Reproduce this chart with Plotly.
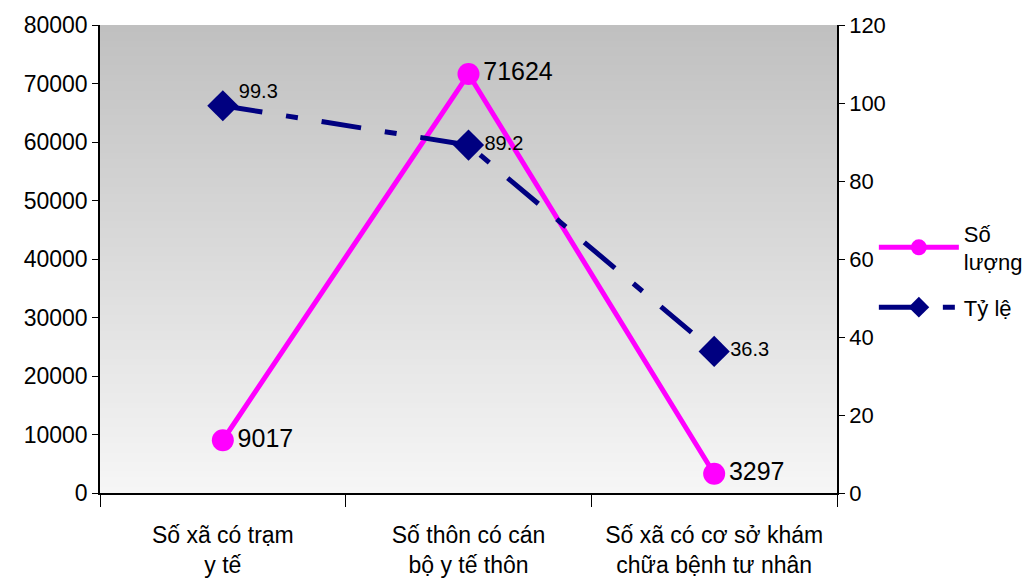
import plotly.graph_objects as go

categories = ["Số xã có trạm<br>y tế", "Số thôn có cán<br>bộ y tế thôn", "Số xã có cơ sở khám<br>chữa bệnh tư nhân"]
so_luong = [9017, 71624, 3297]
ty_le = [99.3, 89.2, 36.3]
left_ticks = [0, 10000, 20000, 30000, 40000, 50000, 60000, 70000, 80000]
right_ticks = [0, 20, 40, 60, 80, 100, 120]

FONT = "Liberation Sans, Arial, sans-serif"

fig = go.Figure()

# gradient background bands
n = 150
top_c, bot_c = 192, 246
shapes = []
for i in range(n):
    t = i / (n - 1)
    c = round(top_c + (bot_c - top_c) * t)
    shapes.append(dict(type="rect", xref="paper", yref="paper",
                       x0=0, x1=1, y0=max(0, 1 - (i + 1.6) / n), y1=1 - i / n,
                       fillcolor=f"rgb({c},{c},{c})", line=dict(width=0), layer="below"))

fig.add_trace(go.Scatter(
    x=categories, y=so_luong, name="Số<br>lượng", mode="lines+markers+text",
    legendgroup="a",
    line=dict(color="#ff00ff", width=5),
    marker=dict(symbol="circle", size=22, color="#ff00ff"),
    text=[str(v) for v in so_luong], textposition="middle right",
    textfont=dict(size=25, color="black", family=FONT),
    cliponaxis=False,
))
ty_le_text = [str(v) for v in ty_le]
ty_le_text[0] = ty_le_text[0] + "<br> "
fig.add_trace(go.Scatter(
    x=categories, y=ty_le, name="Tỷ lệ", mode="lines+markers+text", yaxis="y2",
    legendgroup="b",
    line=dict(color="#000080", width=5, dash="40px,24px,12px,24px"),
    marker=dict(symbol="diamond", size=24, color="#000080"),
    text=ty_le_text, textposition="middle right",
    textfont=dict(size=20, color="black", family=FONT),
    cliponaxis=False,
))

fig.update_layout(
    width=1026, height=582,
    margin=dict(l=100, r=189, t=25, b=89, autoexpand=False),
    paper_bgcolor="white", plot_bgcolor="rgba(0,0,0,0)",
    font=dict(family=FONT, size=22, color="black"),
    shapes=shapes,
    showlegend=True,
    legend=dict(x=1.05, y=0.6, xanchor="left", yanchor="top",
                font=dict(size=22, family=FONT), itemwidth=80,
                bgcolor="rgba(0,0,0,0)", traceorder="grouped", tracegroupgap=14),
    xaxis=dict(type="category", tickson="boundaries", ticks="outside", ticklen=12,
               tickcolor="black", showline=True, linecolor="black", linewidth=2,
               showgrid=False, tickfont=dict(size=23), range=[-0.5, 2.5],
               ticklabelstandoff=20, automargin=False),
    yaxis=dict(range=[0, 80000], tickvals=left_ticks, ticktext=[str(v) for v in left_ticks],
               ticks="outside", ticklen=6,
               tickcolor="black", showline=True, linecolor="black", linewidth=1.5,
               showgrid=False, zeroline=False, tickfont=dict(size=23), automargin=False),
    yaxis2=dict(range=[0, 120], tickvals=right_ticks, ticktext=[str(v) for v in right_ticks],
                overlaying="y", side="right",
                ticks="outside", ticklen=6, tickcolor="black", showline=True,
                linecolor="black", linewidth=1.5, showgrid=False, zeroline=False,
                tickfont=dict(size=22), automargin=False),
)

fig.write_html("out.html")
